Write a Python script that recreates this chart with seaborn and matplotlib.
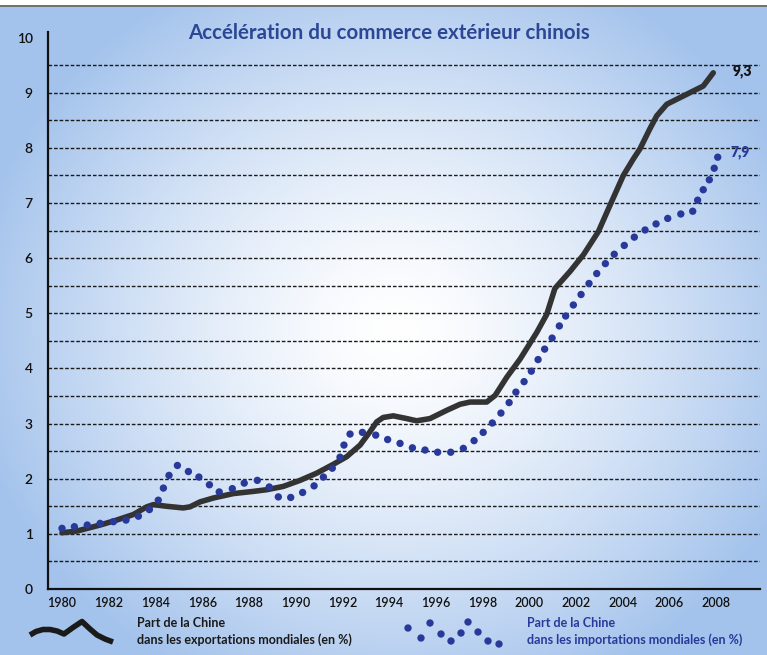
import numpy as np
import matplotlib
matplotlib.use("Agg")
import matplotlib.pyplot as plt
import seaborn as sns

# ---------------- data ----------------
title = "Accélération du commerce extérieur chinois"

export_years = [1980.0, 1980.63, 1981.63, 1982.34, 1983.05, 1983.63, 1983.91, 1984.48, 1985.19, 1985.48,
                1985.91, 1986.48, 1987.33, 1988.19, 1988.76, 1989.47, 1990.19, 1990.9, 1991.61, 1992.19,
                1992.76, 1993.18, 1993.47, 1993.75, 1994.18, 1994.76, 1995.18, 1995.75, 1996.47, 1997.04,
                1997.47, 1998.18, 1998.54, 1999.04, 1999.61, 2000.32, 2000.75, 2001.1, 2001.75, 2002.32,
                2002.96, 2003.46, 2004.03, 2004.46, 2004.74, 2005.16, 2005.46, 2005.89, 2006.74, 2007.45,
                2007.88]
export_share = [1.02, 1.05, 1.16, 1.25, 1.35, 1.49, 1.53, 1.50, 1.47, 1.49,
                1.58, 1.65, 1.73, 1.77, 1.80, 1.86, 1.97, 2.10, 2.26, 2.40,
                2.61, 2.85, 3.03, 3.11, 3.14, 3.09, 3.05, 3.09, 3.24, 3.35,
                3.39, 3.39, 3.51, 3.84, 4.17, 4.65, 4.98, 5.45, 5.76, 6.06,
                6.48, 6.96, 7.50, 7.80, 7.98, 8.34, 8.58, 8.79, 8.97, 9.12,
                9.36]

import_years = [1980.0, 1980.53, 1981.08, 1981.63, 1982.2, 1982.74, 1983.27, 1983.74, 1984.12, 1984.34,
                1984.58, 1984.94, 1985.41, 1985.86, 1986.31, 1986.73, 1987.29, 1987.8, 1988.36, 1988.87,
                1989.26, 1989.79, 1990.3, 1990.79, 1991.19, 1991.57, 1991.9, 1992.07, 1992.33, 1992.86,
                1993.43, 1993.94, 1994.47, 1995.0, 1995.54, 1996.08, 1996.64, 1997.18, 1997.64, 1998.03,
                1998.42, 1998.79, 1999.14, 1999.43, 1999.78, 2000.09, 2000.38, 2000.66, 2000.98, 2001.29,
                2001.56, 2001.89, 2002.22, 2002.56, 2002.89, 2003.26, 2003.64, 2004.07, 2004.5, 2004.96,
                2005.43, 2005.93, 2006.49, 2007.0, 2007.21, 2007.45, 2007.71, 2007.92, 2008.07]
import_share = [1.10, 1.13, 1.16, 1.19, 1.22, 1.25, 1.32, 1.44, 1.61, 1.83,
                2.06, 2.24, 2.13, 2.03, 1.89, 1.76, 1.82, 1.92, 1.97, 1.85,
                1.67, 1.66, 1.75, 1.87, 2.03, 2.19, 2.39, 2.61, 2.81, 2.84,
                2.79, 2.71, 2.64, 2.56, 2.52, 2.48, 2.48, 2.55, 2.69, 2.84,
                3.01, 3.19, 3.38, 3.57, 3.76, 3.95, 4.16, 4.35, 4.55, 4.77,
                4.95, 5.15, 5.34, 5.54, 5.72, 5.90, 6.07, 6.23, 6.38, 6.51,
                6.62, 6.72, 6.80, 6.85, 7.05, 7.24, 7.42, 7.63, 7.83]

x_ticks = list(range(1980, 2009, 2))
y_ticks = list(range(0, 11))
export_end_label = "9,3"
import_end_label = "7,9"
legend_export = "Part de la Chine\ndans les exportations mondiales (en %)"
legend_import = "Part de la Chine\ndans les importations mondiales (en %)"

# ---------------- style ----------------
LINE_C = "#333333"
DOT_C = "#28399a"
TITLE_C = "#2b4795"

sns.set_theme(style="white")
plt.rcParams['font.family'] = ['Lato', 'DejaVu Sans']

W, H = 767, 655
fig = plt.figure(figsize=(W / 100, H / 100), dpi=100)

# background radial gradient
bg = fig.add_axes([0, 0, 1, 1], zorder=0)
yy, xx = np.mgrid[0:H, 0:W]
t = np.sqrt(((xx - 395) / 430.0) ** 2 + ((yy - 330) / 390.0) ** 2)
f = np.clip(t, 0, 1) ** 1.4
edge = np.array([164, 195, 236]) / 255.0
img = (1 - f[..., None]) * 1.0 + f[..., None] * edge
img[:6, :, :] = 1.0
img[5:7, :, :] = 0.45
bg.imshow(img, extent=[0, 1, 0, 1], aspect='auto', origin='upper')
bg.set_xlim(0, 1)
bg.set_ylim(0, 1)
bg.axis('off')

# main axes
ax = fig.add_axes([48 / W, (H - 589) / H, (760 - 48) / W, (589 - 32) / H], zorder=1)
ax.set_facecolor('none')

for v in np.arange(0.5, 10.0, 0.5):
    ax.axhline(v, color="#1a1a1a", lw=1.0, ls=(0, (2.6, 1.4)), zorder=1)

sns.lineplot(x=export_years, y=export_share, ax=ax, color=LINE_C, linewidth=4.0,
             estimator=None, sort=False, zorder=3, solid_capstyle='round', solid_joinstyle='round')
sns.scatterplot(x=import_years, y=import_share, ax=ax, color=DOT_C, s=28,
                edgecolor='none', zorder=4)

ax.set_xlim(1979.4, 2009.88)
ax.set_ylim(0, 10.1)
ax.set_xticks(x_ticks)
ax.set_xticklabels([str(v) for v in x_ticks], fontsize=9, color="#111111", fontweight='semibold')
ax.set_yticks(y_ticks)
ax.set_yticklabels([str(v) for v in y_ticks], fontsize=10, color="#111111", fontweight='semibold')
ax.tick_params(axis='both', length=0)
ax.tick_params(axis='x', pad=6)
ax.tick_params(axis='y', pad=11)
ax.set_xlabel("")
ax.set_ylabel("")
for s in ['top', 'right']:
    ax.spines[s].set_visible(False)
for s in ['left', 'bottom']:
    ax.spines[s].set_color("#111111")
    ax.spines[s].set_linewidth(1.6)

ax.annotate(export_end_label, xy=(export_years[-1], export_share[-1]), xytext=(29, 2),
            textcoords='offset pixels', ha='center', va='center', fontsize=10,
            fontweight='heavy', color="#111111")
ax.annotate(import_end_label, xy=(import_years[-1], import_share[-1]), xytext=(22, 5),
            textcoords='offset pixels', ha='center', va='center', fontsize=10,
            fontweight='heavy', color=DOT_C)

fig.text(389 / W, 1 - 33 / H, title, ha='center', va='center', fontsize=14.8,
         fontweight='bold', color=TITLE_C)

# legend (decorative glyphs + text)
def px(x, y):
    return x / W, 1 - y / H

zz = [(30, 635), (36, 631.5), (43, 629.5), (50, 629.5), (57, 631), (64, 634),
      (73, 627.5), (82, 621.5), (90, 629), (97, 635), (105, 639), (113, 642)]
bg.plot([px(*p)[0] for p in zz], [px(*p)[1] for p in zz], color="#1a1a1a", lw=4.0,
        solid_capstyle='butt', solid_joinstyle='round')
dd = [(408, 628), (421, 638), (430, 623), (441, 634), (451, 641), (461, 633),
      (468, 622), (478, 632), (488, 641), (499, 644)]
bg.scatter([px(*p)[0] for p in dd], [px(*p)[1] for p in dd], color=DOT_C, s=28,
           edgecolor='none')
fig.text(137 / W, 1 - 631.5 / H, legend_export, ha='left', va='center', fontsize=9,
         fontweight='bold', color="#1a1a1a", linespacing=1.4)
fig.text(527 / W, 1 - 631.5 / H, legend_import, ha='left', va='center', fontsize=9,
         fontweight='bold', color=DOT_C, linespacing=1.4)

fig.savefig("out.png", dpi=100)
